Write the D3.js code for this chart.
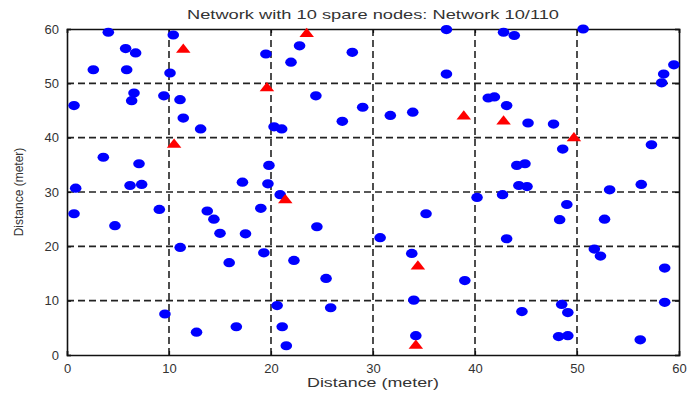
<!DOCTYPE html>
<html>
<head>
<meta charset="utf-8">
<script src="https://cdn.jsdelivr.net/npm/d3@7"></script>
<style>
  body { margin: 0; background: #fff; }
  text { font-family: "Liberation Sans", Arial, sans-serif; fill: #333; }
</style>
</head>
<body>
<div id="chart"></div>
<script>
// sensor nodes (x, y in meter)
const activeNodes = [
  [4.05,59.4],[5.75,56.4],[6.73,55.6],[2.58,52.5],[5.85,52.5],[10.42,58.9],[10.1,51.9],
  [6.57,48.2],[6.34,46.8],[9.5,47.7],[11.08,47.0],[11.4,43.6],[13.1,41.6],[0.69,45.9],
  [3.56,36.4],[7.06,35.2],[0.85,30.7],[6.18,31.2],[7.32,31.4],[22.8,56.9],[19.5,55.4],
  [21.96,53.9],[27.97,55.7],[24.4,47.7],[28.99,45.6],[26.99,43.0],[20.3,42.0],[21.05,41.6],
  [19.8,34.9],[17.2,31.8],[19.7,31.5],[37.2,59.9],[42.8,59.4],[43.85,58.8],[37.2,51.7],
  [41.3,47.3],[41.9,47.5],[43.1,45.9],[31.7,44.1],[33.9,44.7],[45.2,42.7],[44.1,34.9],
  [44.9,35.2],[44.3,31.2],[45.1,31.0],[50.6,60.0],[59.5,53.4],[58.5,51.7],[58.3,50.1],
  [47.7,42.5],[48.6,37.9],[57.3,38.7],[56.3,31.4],[53.2,30.4],[0.69,26.0],[4.7,23.8],
  [9.05,26.8],[13.75,26.5],[14.4,25.0],[15.0,22.4],[11.1,19.8],[9.6,7.55],[12.7,4.2],
  [20.9,29.5],[19.0,27.0],[17.5,22.3],[24.5,23.6],[30.7,21.6],[19.3,18.8],[15.9,17.0],
  [22.25,17.4],[25.4,14.1],[20.6,9.1],[25.85,8.7],[16.6,5.2],[21.1,5.2],[21.5,1.7],
  [40.2,29.0],[42.7,29.5],[35.2,26.0],[43.1,21.4],[33.8,18.7],[39.0,13.7],[34.0,10.1],
  [44.6,8.0],[34.2,3.55],[49.0,27.7],[48.3,24.9],[52.7,25.0],[51.7,19.5],[52.3,18.2],
  [58.6,16.0],[48.5,9.3],[49.1,7.8],[58.6,9.7],[48.2,3.4],[49.1,3.55],[56.2,2.8]
];
// spare nodes
const spareNodes = [
  [11.4,56.2],[10.5,38.7],[23.5,59.1],[19.6,49.1],[38.9,43.9],
  [42.8,43.0],[49.7,39.9],[21.4,28.5],[34.4,16.3],[34.2,1.7]
];
const xTicks = [0, 10, 20, 30, 40, 50, 60];
const yTicks = [0, 10, 20, 30, 40, 50, 60];
const gridTicks = [10, 20, 30, 40, 50];

const W = 689, H = 394;
const margin = {top: 29, right: 10, bottom: 39, left: 67};
const width = W - margin.left - margin.right,
      height = H - margin.top - margin.bottom;

const svg = d3.select("#chart").append("svg")
    .attr("width", W).attr("height", H);
const g = svg.append("g")
    .attr("transform", `translate(${margin.left},${margin.top})`);

const x = d3.scaleLinear().domain([0, 60]).range([0, width]);
const y = d3.scaleLinear().domain([0, 60]).range([height, 0]);

// dashed grid
g.append("g").selectAll("line").data(gridTicks).join("line")
    .attr("x1", d => x(d)).attr("x2", d => x(d))
    .attr("y1", 0).attr("y2", height)
    .attr("stroke", "#222").attr("stroke-width", 1.6)
    .attr("stroke-dasharray", "7,4");
g.append("g").selectAll("line").data(gridTicks).join("line")
    .attr("y1", d => y(d)).attr("y2", d => y(d))
    .attr("x1", 0).attr("x2", width)
    .attr("stroke", "#222").attr("stroke-width", 1.6)
    .attr("stroke-dasharray", "7,4");

// axes, inward ticks like matlab
const xAxis = g.append("g")
    .attr("transform", `translate(0,${height})`)
    .call(d3.axisBottom(x).tickValues(xTicks).tickSize(-4).tickPadding(9).tickFormat(d3.format("d")));
const yAxis = g.append("g")
    .call(d3.axisLeft(y).tickValues(yTicks).tickSize(-4).tickPadding(8).tickFormat(d3.format("d")));
g.append("g")
    .call(d3.axisTop(x).tickValues(xTicks).tickSize(-4).tickFormat(""));
g.append("g")
    .attr("transform", `translate(${width},0)`)
    .call(d3.axisRight(y).tickValues(yTicks).tickSize(-4).tickFormat(""));

g.selectAll(".domain").attr("stroke", "#111").attr("stroke-width", 1.6);
g.selectAll(".tick line").attr("stroke", "#111").attr("stroke-width", 1.2);
g.selectAll(".tick text").style("font-size", "13px").attr("fill", "#333");

// nodes
g.append("g").selectAll("ellipse").data(activeNodes).join("ellipse")
    .attr("cx", d => x(d[0])).attr("cy", d => y(d[1]))
    .attr("rx", 5.8).attr("ry", 4.6)
    .attr("fill", "#0000ff");

const tri = d3.symbol().type(d3.symbolTriangle).size(50);
g.append("g").selectAll("path").data(spareNodes).join("path")
    .attr("d", tri)
    .attr("transform", d => `translate(${x(d[0])},${y(d[1])}) scale(1.35,1)`)
    .attr("fill", "#ff0000");

// title and labels
svg.append("text")
    .attr("x", margin.left + width / 2).attr("y", 19)
    .attr("text-anchor", "middle")
    .style("font-size", "13px")
    .attr("textLength", 372).attr("lengthAdjust", "spacingAndGlyphs")
    .text("Network with 10 spare nodes: Network 10/110");

svg.append("text")
    .attr("x", margin.left + width / 2).attr("y", 387)
    .attr("text-anchor", "middle")
    .style("font-size", "13px")
    .attr("textLength", 132).attr("lengthAdjust", "spacingAndGlyphs")
    .text("Distance (meter)");

svg.append("text")
    .attr("transform", `translate(23,${margin.top + height / 2}) rotate(-90)`)
    .attr("text-anchor", "middle")
    .style("font-size", "12px")
    .text("Distance (meter)");
</script>
</body>
</html>
